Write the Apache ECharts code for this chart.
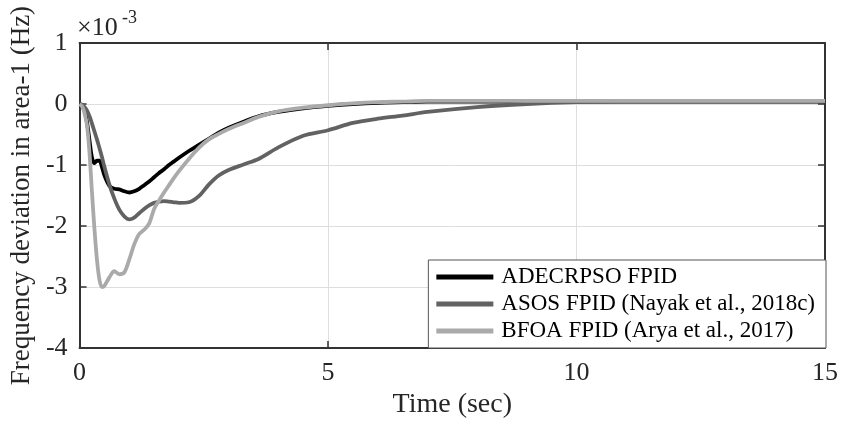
<!DOCTYPE html>
<html>
<head>
<meta charset="utf-8">
<script src="https://cdn.jsdelivr.net/npm/echarts@6/dist/echarts.min.js"></script>
<style>
html,body{margin:0;padding:0;background:#fff;}
#chart{width:841px;height:424px;}
</style>
</head>
<body>
<div id="chart"></div>
<script>
// Time (sec)
var timeSec = [0, 0.05, 0.1, 0.15, 0.2, 0.25, 0.3, 0.35, 0.4, 0.45, 0.5,
  0.6, 0.7, 0.8, 0.9, 1.0, 1.1, 1.2, 1.3, 1.4, 1.5, 1.6, 1.7, 1.8, 1.9, 2.0,
  2.2, 2.4, 2.6, 2.8, 3.0, 3.3, 3.6, 4.0, 4.5, 5, 5.5, 6, 6.5, 7,
  8, 9, 10, 11, 12, 13, 14, 15];
// Frequency deviation (x 1e-3 Hz)
var adecrpso = [0, -0.02, -0.1, -0.3, -0.6, -0.88, -0.97, -0.93, -0.93, -1.03, -1.17,
  -1.34, -1.39, -1.40, -1.43, -1.45, -1.43, -1.39, -1.33, -1.27, -1.2, -1.13, -1.07, -1.0, -0.94, -0.88,
  -0.77, -0.67, -0.57, -0.47, -0.39, -0.29, -0.2, -0.13, -0.07, -0.03, 0.0, 0.02, 0.03, 0.04,
  0.04, 0.04, 0.04, 0.04, 0.04, 0.04, 0.04, 0.04];
var asos = [0, -0.01, -0.05, -0.11, -0.2, -0.32, -0.45, -0.58, -0.72, -0.87, -1.03,
  -1.32, -1.55, -1.73, -1.84, -1.89, -1.86, -1.79, -1.72, -1.66, -1.62, -1.60, -1.59, -1.60, -1.61, -1.62,
  -1.61, -1.51, -1.32, -1.17, -1.08, -0.99, -0.90, -0.71, -0.52, -0.43, -0.31, -0.24, -0.19, -0.13,
  -0.05, 0.0, 0.03, 0.04, 0.04, 0.04, 0.04, 0.04];
var bfoa = [0, -0.04, -0.15, -0.35, -0.8, -1.45, -2.05, -2.55, -2.88, -3.0, -2.98,
  -2.84, -2.74, -2.79, -2.76, -2.55, -2.3, -2.13, -2.06, -1.96, -1.72, -1.58, -1.45, -1.33, -1.21, -1.1,
  -0.9, -0.72, -0.58, -0.49, -0.41, -0.31, -0.21, -0.12, -0.06, -0.02, 0.01, 0.03, 0.04, 0.05,
  0.05, 0.05, 0.05, 0.05, 0.05, 0.05, 0.05, 0.05];
var seriesNames = ['ADECRPSO FPID', 'ASOS FPID (Nayak et al., 2018c)', 'BFOA FPID (Arya et al., 2017)'];
var seriesColors = ['#000000', '#626262', '#aaaaaa'];
var xTicks = {min: 0, max: 15, interval: 5};
var yTicks = {min: -4, max: 1, interval: 1};

function pairs(vals){ return timeSec.map(function(t,i){ return [t, vals[i]]; }); }

var FONT = "'Liberation Serif','Times New Roman',serif";
var axisCol = '#333333';
var textCol = '#262626';

var chart = echarts.init(document.getElementById('chart'), null, {renderer:'canvas'});
var baseX = {
  type: 'value', min: xTicks.min, max: xTicks.max, interval: xTicks.interval,
  axisLine: {show: true, onZero: false, lineStyle: {color: axisCol, width: 2}},
  axisTick: {show: true, inside: true, length: 7, lineStyle: {color: axisCol, width: 1.5}},
  splitLine: {show: false}
};
var baseY = {
  type: 'value', min: yTicks.min, max: yTicks.max, interval: yTicks.interval,
  axisLine: {show: true, onZero: false, lineStyle: {color: axisCol, width: 2}},
  axisTick: {show: true, inside: true, length: 7, lineStyle: {color: axisCol, width: 1.5}},
  splitLine: {show: false}
};
var data = [adecrpso, asos, bfoa];
var option = {
  animation: false,
  backgroundColor: '#ffffff',
  grid: {left: 76, right: 15, top: 43, bottom: 74, containLabel: false},
  xAxis: [
    Object.assign({}, baseX, {
      position: 'bottom',
      name: 'Time (sec)', nameLocation: 'middle', nameGap: 36,
      nameTextStyle: {fontFamily: FONT, fontSize: 28, color: textCol},
      axisLabel: {fontFamily: FONT, fontSize: 26, color: textCol, margin: 12},
      splitLine: {show: true, lineStyle: {color: '#dedede', width: 1}}
    }),
    Object.assign({}, baseX, {position: 'top', axisLabel: {show: false}})
  ],
  yAxis: [
    Object.assign({}, baseY, {
      position: 'left',
      name: 'Frequency deviation in area-1 (Hz)', nameLocation: 'middle', nameGap: 38,
      nameTextStyle: {fontFamily: FONT, fontSize: 27, color: textCol},
      axisLabel: {fontFamily: FONT, fontSize: 26, color: textCol, margin: 12},
      splitLine: {show: true, lineStyle: {color: '#dedede', width: 1}}
    }),
    Object.assign({}, baseY, {position: 'right', axisLabel: {show: false}})
  ],
  legend: {
    orient: 'vertical', right: 15, bottom: 76,
    icon: 'rect', itemWidth: 57, itemHeight: 5, itemGap: 1,
    padding: [4, 11, 4, 8],
    backgroundColor: '#ffffff', borderColor: '#555555', borderWidth: 1, borderRadius: 0,
    textStyle: {fontFamily: FONT, fontSize: 23, color: '#000000', lineHeight: 26, padding: [0, 0, 0, 3]},
    data: seriesNames
  },
  graphic: [
    {type: 'text', left: 77, top: 15, style: {text: '\u00d710', font: '26px ' + FONT, fill: textCol}},
    {type: 'text', left: 122, top: 9, style: {text: '-3', font: '18px ' + FONT, fill: textCol}}
  ],
  series: seriesNames.map(function(n, i){
    return {
      name: n, type: 'line', data: pairs(data[i]), showSymbol: false, smooth: 0.3,
      lineStyle: {color: seriesColors[i], width: 3.8}, itemStyle: {color: seriesColors[i]},
      z: 2 + i
    };
  })
};
chart.setOption(option);
</script>
</body>
</html>
